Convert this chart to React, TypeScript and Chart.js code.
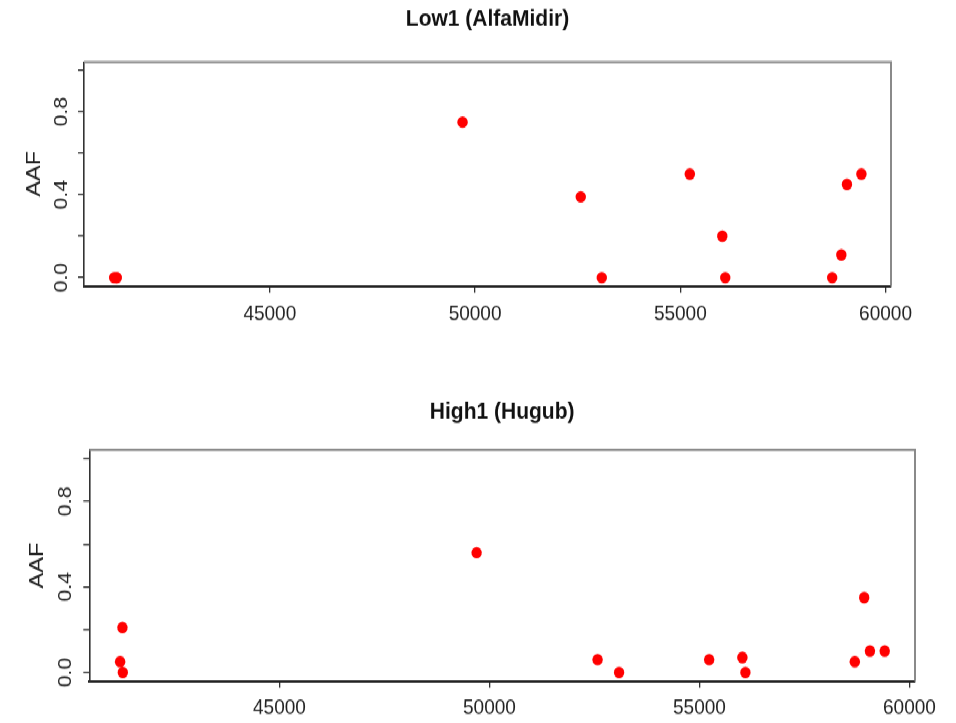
import React, { useEffect, useRef } from "react";
import { Chart, registerables } from "chart.js";

Chart.register(...registerables);

// ---- data ----
const POSITIONS = [41207, 41262, 41271, 49695, 52575, 53087, 55232, 56023, 56095, 58700, 58923, 59060, 59412];
const LOW1_AAF = [0, 0, 0, 0.75, 0.39, 0, 0.5, 0.2, 0, 0, 0.11, 0.45, 0.5];
const HIGH1_AAF = [0.05, 0.21, 0, 0.56, 0.06, 0, 0.06, 0.07, 0, 0.05, 0.35, 0.1, 0.1];
const X_TICKS = [45000, 50000, 55000, 60000];
const Y_TICKS = [0, 0.2, 0.4, 0.6, 0.8, 1.0];
const Y_TICK_LABELS = ["0.0", "", "0.4", "", "0.8", ""];
const X_RANGE = [40473, 60133];
const Y_RANGE = [-0.04, 1.04];
const TITLES = ["Low1 (AlfaMidir)", "High1 (Hugub)"];
const Y_TITLE = "AAF";

// ---- styling / layout ----
const FONT = "'Liberation Sans', Arial, Helvetica, sans-serif";
const W = 956;
const H = 323;
const TOTAL_H = 646;
const STRETCH = 723 / TOTAL_H;

type Layout = {
  left: number;
  right: number;
  top: number;
  bottom: number;
  titleCenter: number;
  yTitleX: number;
  yLabelX: number;
  xLabelCenter: number;
};

const LAYOUTS: Layout[] = [
  { left: 84, right: 891, top: 55.4, bottom: 255.5, titleCenter: 17.6, yTitleX: 34, yLabelX: 61.3, xLabelCenter: 280.7 },
  { left: 89.3, right: 915, top: 79.1, bottom: 285.5, titleCenter: 45.0, yTitleX: 37.5, yLabelX: 65.8, xLabelCenter: 309.9 },
];

function overlayPlugin(title: string, L: Layout) {
  return {
    id: "overlay" + title.replace(/\W/g, ""),
    afterDraw(chart: any) {
      const { ctx, chartArea: a } = chart;
      const y = chart.scales.y;
      ctx.save();
      // grey top/right frame
      ctx.strokeStyle = "#8a8a8a";
      ctx.lineWidth = 2;
      ctx.beginPath();
      ctx.moveTo(a.left, a.top);
      ctx.lineTo(a.right, a.top);
      ctx.lineTo(a.right, a.bottom);
      ctx.stroke();
      // title centred over plot region
      ctx.fillStyle = "#111";
      ctx.font = `bold 21px ${FONT}`;
      ctx.textAlign = "center";
      ctx.textBaseline = "middle";
      ctx.fillText(title, (a.left + a.right) / 2, L.titleCenter);
      // rotated y tick labels
      ctx.fillStyle = "#222";
      ctx.font = `19px ${FONT}`;
      Y_TICKS.forEach((v, i) => {
        const lab = Y_TICK_LABELS[i];
        if (!lab) return;
        const py = y.getPixelForValue(v);
        ctx.save();
        ctx.translate(L.yLabelX, py);
        ctx.rotate(-Math.PI / 2);
        ctx.fillText(lab, 0, 0);
        ctx.restore();
      });
      ctx.restore();
    },
  };
}

function makeConfig(title: string, values: number[], L: Layout): any {
  const tickLen = 6;
  const xFontSize = 19;
  return {
    type: "scatter",
    data: {
      datasets: [
        {
          data: POSITIONS.map((x, i) => ({ x, y: values[i] })),
          backgroundColor: "#ff0000",
          borderColor: "#ff0000",
          borderWidth: 0,
          pointRadius: 5.2,
          pointHoverRadius: 5.2,
          pointStyle: "circle",
          clip: false,
        },
      ],
    },
    options: {
      animation: false,
      responsive: false,
      events: [],
      layout: { padding: { left: 0, right: W - L.right, top: L.top, bottom: 0 } },
      plugins: {
        legend: { display: false },
        tooltip: { enabled: false },
        title: { display: false },
      },
      scales: {
        x: {
          type: "linear",
          position: "bottom",
          min: X_RANGE[0],
          max: X_RANGE[1],
          bounds: "data",
          afterBuildTicks: (s: any) => {
            s.ticks = X_TICKS.map((v) => ({ value: v }));
          },
          afterFit: (s: any) => {
            s.height = H - L.bottom;
          },
          grid: {
            display: true,
            drawOnChartArea: false,
            drawTicks: true,
            tickLength: tickLen,
            color: "#333",
            lineWidth: 1.3,
          },
          border: { display: true, color: "#222", width: 2 },
          ticks: {
            autoSkip: false,
            maxRotation: 0,
            minRotation: 0,
            color: "#222",
            font: { family: FONT, size: xFontSize },
            padding: L.xLabelCenter - L.bottom - tickLen - (xFontSize * 1.2) / 2,
            callback: (v: any) => String(v),
          },
        },
        y: {
          type: "linear",
          position: "left",
          min: Y_RANGE[0],
          max: Y_RANGE[1],
          bounds: "data",
          afterBuildTicks: (s: any) => {
            s.ticks = Y_TICKS.map((v) => ({ value: v }));
          },
          afterFit: (s: any) => {
            s.width = L.left;
          },
          grid: {
            display: true,
            drawOnChartArea: false,
            drawTicks: true,
            tickLength: tickLen,
            color: "#333",
            lineWidth: 1.3,
          },
          border: { display: true, color: "#333", width: 1.6 },
          ticks: { display: false },
          title: {
            display: true,
            text: Y_TITLE,
            color: "#222",
            font: { family: FONT, size: 21 },
            padding: { top: L.yTitleX - (21 * 1.2) / 2, bottom: 0 },
          },
        },
      },
    },
    plugins: [overlayPlugin(title, L)],
  };
}

function Panel({ title, values, layout }: { title: string; values: number[]; layout: Layout }) {
  const ref = useRef<HTMLCanvasElement | null>(null);
  useEffect(() => {
    if (!ref.current) return;
    Chart.defaults.font.family = FONT;
    const chart = new Chart(ref.current, makeConfig(title, values, layout));
    return () => chart.destroy();
  }, [title, values, layout]);
  return (
    <canvas
      ref={ref}
      width={W}
      height={H}
      style={{ display: "block", width: W + "px", height: H + "px" }}
    />
  );
}

export default function App() {
  return (
    <div
      style={{
        position: "absolute",
        left: 0,
        top: 0,
        width: W,
        height: TOTAL_H,
        background: "#fff",
        transform: `scaleY(${STRETCH})`,
        transformOrigin: "0 0",
      }}
    >
      <Panel title={TITLES[0]} values={LOW1_AAF} layout={LAYOUTS[0]} />
      <Panel title={TITLES[1]} values={HIGH1_AAF} layout={LAYOUTS[1]} />
    </div>
  );
}
